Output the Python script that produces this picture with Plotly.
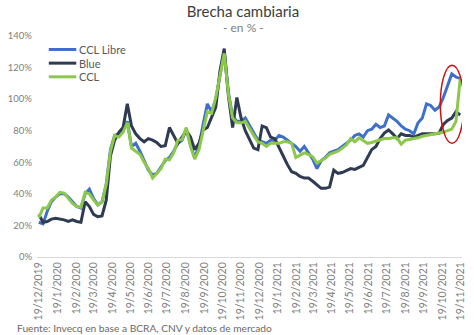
import pandas as pd
import plotly.graph_objects as go

# Weekly observation dates (19/12/2019 .. 18/11/2021)
dates = pd.date_range("2019-12-19", periods=101, freq="7D")

ccl_libre = [22, 21, 29, 35, 38, 40, 40, 38, 35, 32,
             31, 40, 43, 37, 33, 35, 46, 68, 77, 78,
             80, 86, 70, 72, 67, 61, 55, 52, 53, 57,
             61, 63, 67, 72, 74, 81, 71, 63, 70, 84,
             97, 92, 100, 115, 130, 104, 89, 86, 86, 88,
             83, 78, 74, 73, 72, 74, 74, 77, 76, 74,
             72, 70, 67, 70, 66, 62, 56, 61, 63, 66,
             67, 68, 70, 72, 74, 77, 78, 76, 80, 81,
             84, 82, 83, 90, 88, 86, 83, 81, 80, 78,
             85, 88, 97, 96, 93, 95, 101, 108, 116, 114,
             113]

blue = [27, 22, 22.5, 24, 24.5, 24, 23.5, 22.5, 23.5, 22.5,
        22, 35, 32, 27, 25.5, 26, 36, 64, 74, 79,
        82, 97, 83, 78, 75, 73, 75, 74, 72.5, 70,
        70.5, 82, 77, 72, 76, 80, 76, 68, 72, 80.5,
        82, 88, 95, 118, 132, 102, 82, 101, 88, 80,
        75, 69, 68, 83, 82, 76, 75, 69, 64, 58.5,
        54, 53, 51, 50, 50, 48, 45.7, 43.5, 43.5, 44.3,
        55, 53, 53.5, 55, 56, 55.5, 56.5, 58, 63, 68,
        70, 75, 78.5, 80.5, 78, 75, 78, 77, 77, 76,
        77, 78, 78, 78, 78, 78.5, 84, 86.5, 88, 92,
        90]

ccl = [25, 31, 31, 36, 38, 41, 40.5, 37, 34, 32,
       31.5, 41, 40, 36, 33, 35, 46, 67, 77, 76,
       79, 85, 69, 67, 65, 60, 56, 50, 53, 56,
       62, 61.5, 66, 74, 74.5, 82, 70, 62, 68, 80,
       92, 91, 101, 115, 129, 103, 88, 85, 85, 86,
       81, 77, 73, 72, 70, 72, 72, 72, 73, 73,
       72, 63, 64.5, 66, 65, 63.5, 59.5, 61, 62.5, 65,
       66, 67, 69, 71, 75, 73, 75.5, 74, 72, 72.5,
       73.5, 74.5, 75, 75, 75.5, 75.5, 71.5, 74, 74.5, 75,
       75.5, 76.5, 77, 77.5, 78, 78.5, 79, 80, 81, 86,
       113]

series = [("CCL Libre", ccl_libre, "#3E6FCB"),
          ("Blue", blue, "#2F3B52"),
          ("CCL", ccl, "#8CC84B")]

tick_dates = pd.date_range("2019-12-01", "2021-11-19", freq="MS") + pd.Timedelta(days=18)
tick_text = [f"{d.day}/{d.month}/{d.year}" for d in tick_dates]
y_ticks = [0, 20, 40, 60, 80, 100, 120, 140]
y_text = [f"{v}%" for v in y_ticks]

# plot-area pixel geometry helpers (for legend / text placement)
PL, PR, PT, PB = 33, 466, 36, 257.5
def px(xp):
    return (xp - PL) / (PR - PL)
def py(yp):
    return (PB - yp) / (PB - PT)

fig = go.Figure()
for name, vals, col in series:
    fig.add_trace(go.Scatter(x=dates, y=vals, name=name, mode="lines",
                             line=dict(color=col, width=3), showlegend=False))

shapes = [dict(type="circle", xref="x", yref="y",
               x0="2021-10-16", x1="2021-11-24", y0=72, y1=121.5,
               line=dict(color="#D01010", width=1.5))]
annotations = [
    dict(text="- en % -", xref="paper", yref="paper", x=px(243),
         y=py(27), xanchor="center", yanchor="middle",
         showarrow=False, font=dict(size=12, color="#808080")),
    dict(text="Fuente: Invecq en base a BCRA, CNV y datos de mercado",
         xref="paper", yref="paper", x=px(11), y=py(329),
         xanchor="left", yanchor="middle", showarrow=False,
         font=dict(size=10.2, color="#6a6a6a")),
]
# manual legend (tight spacing as in the original)
for i, (name, vals, col) in enumerate(series):
    yy = 49.5 + 13.7 * i
    shapes.append(dict(type="line", xref="paper", yref="paper",
                       x0=px(45), x1=px(73), y0=py(yy), y1=py(yy),
                       line=dict(color=col, width=3)))
    annotations.append(dict(text=name, xref="paper", yref="paper",
                            x=px(74), y=py(yy), xanchor="left", yanchor="middle",
                            showarrow=False, font=dict(size=11, color="#595959")))

fig.update_layout(
    width=474, height=335,
    margin=dict(l=PL, r=474 - PR, t=PT, b=335 - PB),
    paper_bgcolor="white", plot_bgcolor="white",
    font=dict(family="Lato, Noto Sans, sans-serif", color="#7f7f7f"),
    title=dict(text="Brecha cambiaria", x=243/474, xanchor="center",
               y=1 - 12/335, yanchor="middle",
               font=dict(size=15, color="#3d3d3d")),
    showlegend=False,
    xaxis=dict(type="date", range=["2019-12-16", "2021-11-21"],
               tickvals=tick_dates, ticktext=tick_text, tickangle=-90,
               tickfont=dict(size=10.5, color="#808080"),
               showgrid=False, showline=True, linecolor="#d9d9d9", linewidth=1,
               ticks="", zeroline=False),
    yaxis=dict(range=[0, 140], tickvals=y_ticks, ticktext=y_text,
               tickfont=dict(size=9.5, color="#808080"), ticklabelstandoff=4,
               showgrid=False, zeroline=False, showline=False, ticks=""),
    annotations=annotations,
    shapes=shapes,
)

fig.write_html("out.html")
